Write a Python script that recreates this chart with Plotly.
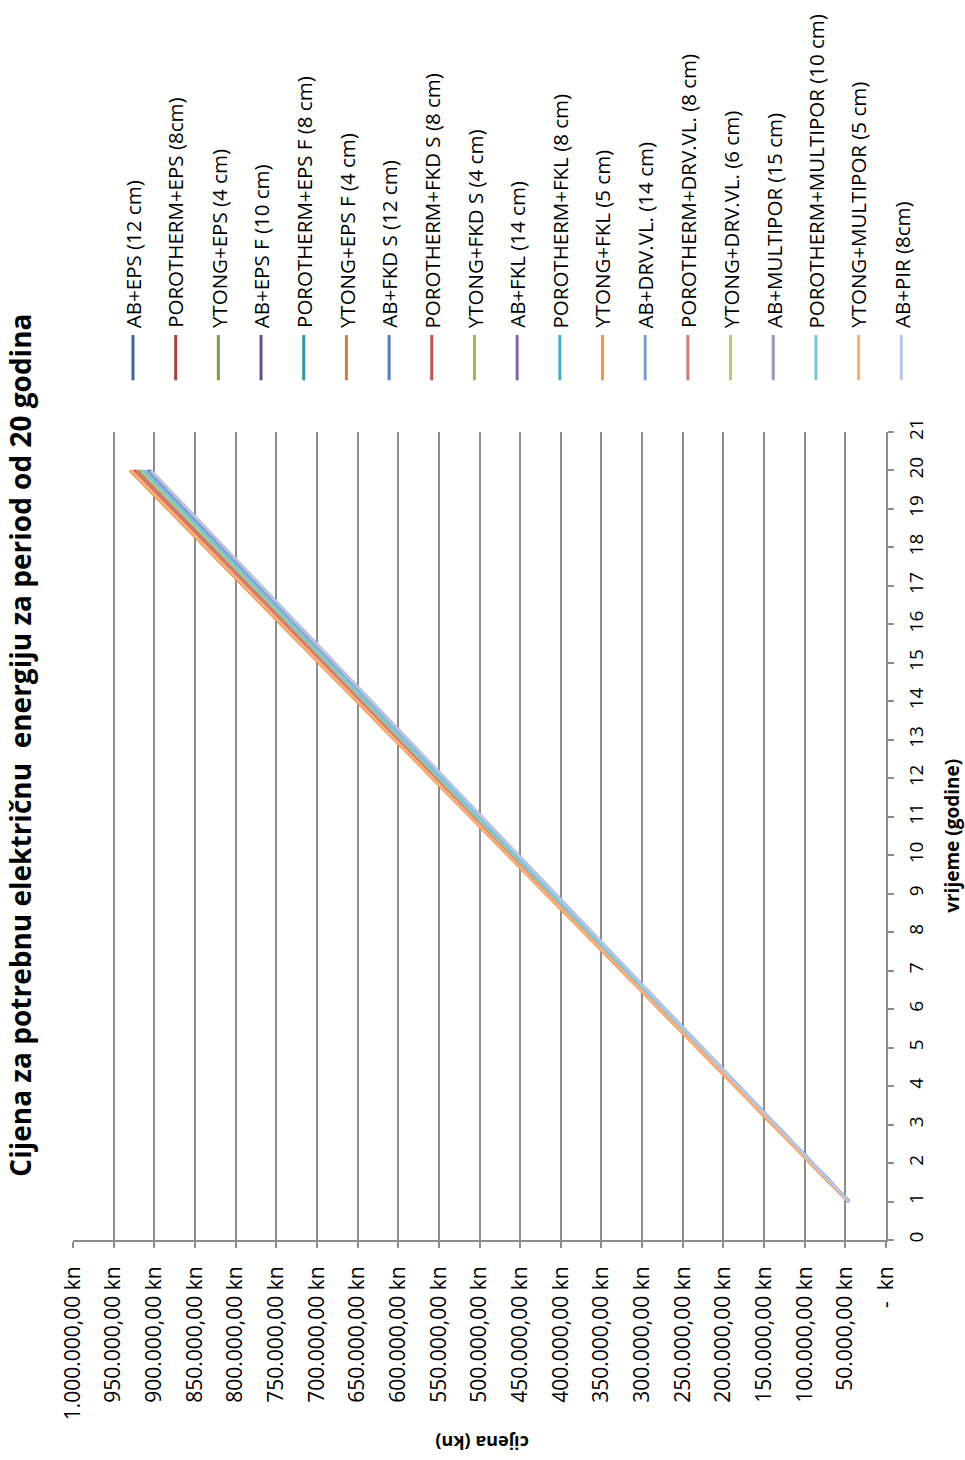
import plotly.graph_objects as go

# godine (x u originalu) - pravci su ravni pa su dovoljne krajnje tocke
years = [1, 20]

series_names = [
    'AB+EPS (12 cm)',
    'POROTHERM+EPS (8cm)',
    'YTONG+EPS (4 cm)',
    'AB+EPS F (10 cm)',
    'POROTHERM+EPS F (8 cm)',
    'YTONG+EPS F (4 cm)',
    'AB+FKD S (12 cm)',
    'POROTHERM+FKD S (8 cm)',
    'YTONG+FKD S (4 cm)',
    'AB+FKL (14 cm)',
    'POROTHERM+FKL (8 cm)',
    'YTONG+FKL (5 cm)',
    'AB+DRV.VL. (14 cm)',
    'POROTHERM+DRV.VL. (8 cm)',
    'YTONG+DRV.VL. (6 cm)',
    'AB+MULTIPOR (15 cm)',
    'POROTHERM+MULTIPOR (10 cm)',
    'YTONG+MULTIPOR (5 cm)',
    'AB+PIR (8cm)',
]

# cijena u 1. godini (kn)
cost_year1 = [45350, 46200, 45900, 45400, 46000, 46500, 45450, 46300, 45950, 45300,
              45750, 46400, 45500, 46100, 45800, 45250, 45650, 46450, 45200]
# cijena u 20. godini (kn)
cost_year20 = [907000, 924000, 918000, 908000, 920000, 930000, 909000, 926000, 919000, 906000,
               915000, 928000, 910000, 922000, 916000, 905000, 913000, 929000, 904000]

series_colors = [
    '#3E6797', '#A4403D', '#7D9A48', '#654E86', '#38919F', '#D47F3A',
    '#4F81BD', '#C0504D', '#9BBB59', '#8064A2', '#4BACC6', '#F79646',
    '#7C9CCF', '#CF7B79', '#AECB82', '#A08FBF', '#80C3D8', '#F9AF7C',
    '#B6C6E0',
]

cost_ticks = list(range(0, 1000001, 50000))
cost_tick_labels = [
    '-  kn', '50.000,00 kn', '100.000,00 kn', '150.000,00 kn', '200.000,00 kn',
    '250.000,00 kn', '300.000,00 kn', '350.000,00 kn', '400.000,00 kn',
    '450.000,00 kn', '500.000,00 kn', '550.000,00 kn', '600.000,00 kn',
    '650.000,00 kn', '700.000,00 kn', '750.000,00 kn', '800.000,00 kn',
    '850.000,00 kn', '900.000,00 kn', '950.000,00 kn', '1.000.000,00 kn',
]
year_ticks = list(range(0, 22))

FONT = 'Open Sans'

fig = go.Figure()
for name, c1, c20, col in zip(series_names, cost_year1, cost_year20, series_colors):
    # graf je zakrenut za 90 stupnjeva: cijena ide vodoravno, godine okomito
    fig.add_trace(go.Scatter(
        x=[c1, c20], y=years, mode='lines', name=name,
        line=dict(color=col, width=3), showlegend=False,
    ))

# rucna legenda (okomiti tekst)
legend_x0 = 0.0738
legend_dx = 0.0525
for i, (name, col) in enumerate(zip(series_names, series_colors)):
    lx = legend_x0 + i * legend_dx
    fig.add_shape(type='line', xref='paper', yref='paper',
                  x0=lx, x1=lx, y0=1.064, y1=1.120,
                  line=dict(color=col, width=3))
    fig.add_annotation(x=lx, y=1.126, xref='paper', yref='paper',
                       text=name, showarrow=False, textangle=-90,
                       xanchor='center', yanchor='bottom',
                       font=dict(family=FONT, size=20.5, color='#000000'))

# naslov
fig.add_annotation(x=-0.0652, y=0.613, xref='paper', yref='paper',
                   text='<b>Cijena za potrebnu električnu  energiju za period od 20 godina</b>',
                   showarrow=False, textangle=-90, xanchor='center', yanchor='middle',
                   font=dict(family=FONT, size=28, color='#000000'))
# naslovi osi
fig.add_annotation(x=1.081, y=0.5, xref='paper', yref='paper',
                   text='<b>vrijeme (godine)</b>', showarrow=False, textangle=-90,
                   xanchor='center', yanchor='middle',
                   font=dict(family=FONT, size=19, color='#000000'))
fig.add_annotation(x=0.503, y=-0.252, xref='paper', yref='paper',
                   text='<b>cijena (kn)</b>', showarrow=False, textangle=180,
                   xanchor='center', yanchor='middle',
                   font=dict(family=FONT, size=18, color='#000000'))

fig.update_layout(
    width=965, height=1460,
    margin=dict(l=73, r=79, t=432, b=220),
    paper_bgcolor='white', plot_bgcolor='white',
    font=dict(family=FONT, color='#000000'),
)
fig.update_xaxes(
    range=[1000000, 0], tickvals=cost_ticks, ticktext=cost_tick_labels,
    tickangle=-90, tickfont=dict(size=21), ticklabelstandoff=10,
    showgrid=True, gridcolor='#8C8C8C', gridwidth=2,
    showline=True, linecolor='#8C8C8C', linewidth=2,
    ticks='outside', ticklen=6, tickcolor='#8C8C8C', tickwidth=2,
    zeroline=False, automargin=False,
)
fig.update_yaxes(
    range=[0, 21], tickvals=year_ticks, side='right',
    tickangle=-90, tickfont=dict(size=19), ticklabelstandoff=6,
    showgrid=False, showline=True, linecolor='#8C8C8C', linewidth=2,
    ticks='outside', ticklen=6, tickcolor='#8C8C8C', tickwidth=2,
    zeroline=False, automargin=False,
)

# bez margina stranice da figura stane tocno u prozor
fig.write_html('out.html', config={'displayModeBar': False},
               post_script="document.body.style.margin='0px';document.body.style.overflow='hidden';")
